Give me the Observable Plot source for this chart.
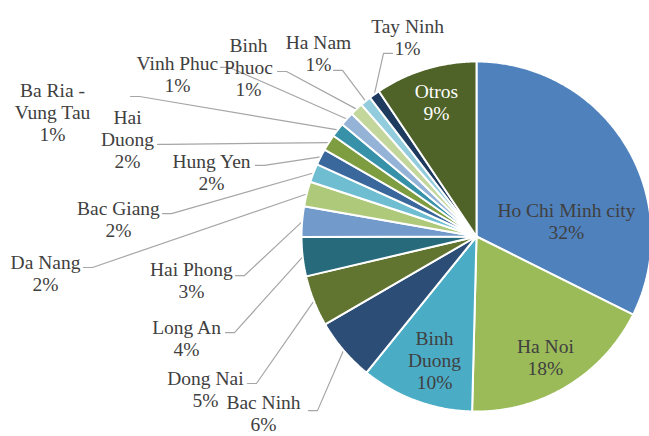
<!DOCTYPE html>
<html>
<head>
<meta charset="utf-8">
<script src="https://cdn.jsdelivr.net/npm/d3@7"></script>
<script src="https://cdn.jsdelivr.net/npm/@observablehq/plot@0.6"></script>
<style>
  html, body { margin: 0; padding: 0; background: #fff; }
  #chart svg { display: block; }
</style>
</head>
<body>
<div id="chart"></div>
<script>
// ---- data ----
const categories = ["Ho Chi Minh city", "Ha Noi", "Binh\nDuong", "Bac Ninh", "Dong Nai", "Long An",
  "Hai Phong", "Da Nang", "Bac Giang", "Hung Yen", "Hai\nDuong", "Ba Ria -\nVung Tau",
  "Vinh Phuc", "Binh\nPhuoc", "Ha Nam", "Tay Ninh", "Otros"];
const values = [32.3, 18.0, 10.4, 5.8, 4.7, 3.6, 2.8, 2.3, 1.7, 1.5, 1.5, 1.3, 1.3, 1.2, 1.0, 1.0, 9.4];

// ---- styles ----
const colors = ["#4F81BD", "#9BBB59", "#4BACC6", "#2C4D75", "#617530", "#276A7C",
  "#729ACA", "#AFC97A", "#6FBDD1", "#3A679C", "#7E9D40", "#3791A8",
  "#95B3D7", "#C3D69B", "#93CDDD", "#1F3A5F", "#4F6228"];
const inside = [true, true, true, false, false, false, false, false, false, false, false, false, false, false, false, false, true];
const labelColor = ["#404040", "#404040", "#404040", "#404040", "#404040", "#404040", "#404040", "#404040",
  "#404040", "#404040", "#404040", "#404040", "#404040", "#404040", "#404040", "#404040", "#ffffff"];

// ---- label layout (in pie-radius units, centre = 0,0) ----
const labelX = [0.514, 0.394, -0.240, -1.217, -1.549, -1.657, -1.629, -2.463, -2.046, -1.514, -1.994, -2.423,
  -1.709, -1.303, -0.903, -0.394, -0.229];
const labelY = [0.091, -0.691, -0.706, -1.010, -0.869, -0.577, -0.246, -0.211, 0.103, 0.371, 0.557, 0.711,
  0.931, 0.969, 1.046, 1.143, 0.771];
const anchorX = [null, null, null, -0.960, -1.309, -1.434, -1.377, -2.246, -1.794, -1.263, -1.823, -1.977,
  -1.463, -1.137, -0.817, -0.480, null];
const anchorY = [null, null, null, -0.995, -0.840, -0.549, -0.223, -0.177, 0.131, 0.406, 0.526, 0.800,
  0.966, 0.943, 0.949, 1.046, null];

const total = d3.sum(values);
const slices = [];
const leaders = [];
const labels = [];
let acc = 0;
values.forEach((v, i) => {
  const a0 = acc / total * 2 * Math.PI;
  acc += v;
  const a1 = acc / total * 2 * Math.PI;
  const n = Math.max(4, Math.ceil((a1 - a0) / (Math.PI / 360)));
  slices.push({id: i, x: 0, y: 0, color: colors[i]});
  for (let k = 0; k <= n; k++) {
    const a = a0 + (a1 - a0) * k / n;
    slices.push({id: i, x: Math.sin(a), y: Math.cos(a), color: colors[i]});
  }
  slices.push({id: i, x: 0, y: 0, color: colors[i]});
  const am = (a0 + a1) / 2;
  if (!inside[i]) {
    const px = Math.sin(am), py = Math.cos(am);
    const ax = anchorX[i], ay = anchorY[i];
    const stub = 9 / 175 * Math.sign(px - ax);
    leaders.push({id: i, x: ax, y: ay});
    leaders.push({id: i, x: ax + stub, y: ay});
    leaders.push({id: i, x: px, y: py});
  }
  labels.push({x: labelX[i], y: labelY[i], text: categories[i] + "\n" + Math.round(v) + "%", fill: labelColor[i]});
});

const R = 175, cx = 476, cy = 236;
const chart = Plot.plot({
  width: 649,
  height: 436,
  margin: 0,
  x: {domain: [-1, 1], range: [cx - R, cx + R], axis: null},
  y: {domain: [-1, 1], range: [cy + R, cy - R], axis: null},
  style: {background: "#ffffff", overflow: "visible"},
  marks: [
    Plot.line(leaders, {x: "x", y: "y", z: "id", stroke: "#a6a6a6", strokeWidth: 1.2, curve: "linear"}),
    Plot.line(slices, {x: "x", y: "y", z: "id", fill: "color", stroke: "#ffffff", strokeWidth: 2, strokeLinejoin: "miter", curve: "linear"}),
    Plot.text(labels, {x: "x", y: "y", text: "text", fill: "fill", fontSize: 19.5, fontFamily: "Liberation Serif",
      lineHeight: 22 / 19.5, textAnchor: "middle", lineAnchor: "middle"})
  ]
});
document.getElementById("chart").appendChild(chart);
</script>
</body>
</html>
